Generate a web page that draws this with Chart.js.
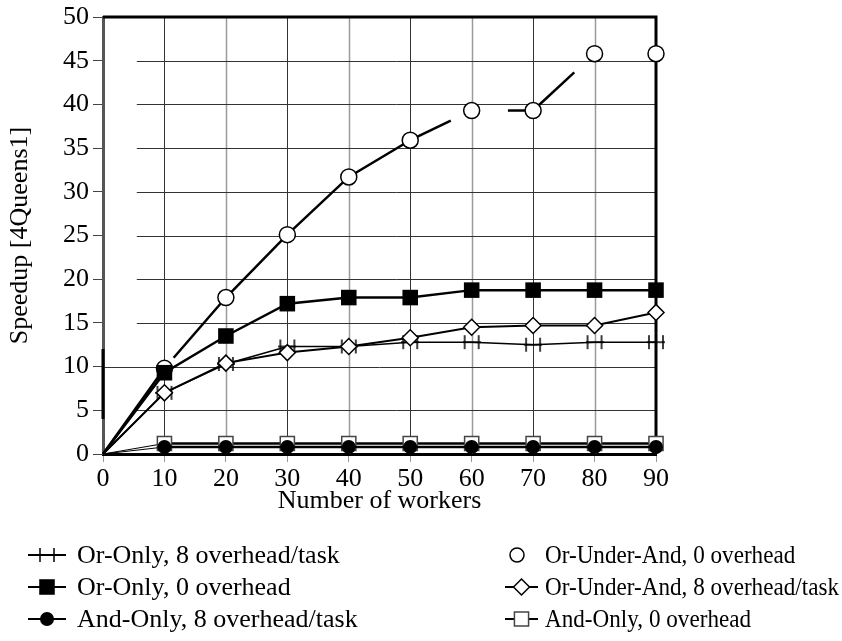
<!DOCTYPE html>
<html>
<head>
<meta charset="utf-8">
<script src="https://cdn.jsdelivr.net/npm/chart.js@4.4.1/dist/chart.umd.min.js"></script>
<style>
  html, body { margin: 0; padding: 0; background: #fff; }
  #wrap { width: 842px; height: 641px; position: relative; }
</style>
</head>
<body>
<div id="wrap"><canvas id="c" width="842" height="641"></canvas></div>
<script>
// Speedup measurements for the 4Queens1 benchmark
const workers = [0, 10, 20, 30, 40, 50, 60, 70, 80, 90];
const orOnly8 = [0, 7.0, 10.3, 12.3, 12.3, 12.8, 12.8, 12.5, 12.8, 12.8];
const orOnly0 = [0, 9.3, 13.5, 17.2, 17.9, 17.9, 18.75, 18.75, 18.75, 18.75];
const andOnly8 = [0, 0.8, 0.8, 0.8, 0.8, 0.8, 0.8, 0.8, 0.8, 0.8];
const orUnderAnd0 = [0, 9.8, 17.9, 25.1, 31.7, 35.9, 39.3, 39.3, 45.8, 45.8];
const orUnderAnd8 = [0, 7.0, 10.4, 11.6, 12.3, 13.3, 14.5, 14.7, 14.7, 16.2];
const andOnly0 = [0, 1.2, 1.2, 1.2, 1.2, 1.2, 1.2, 1.2, 1.2, 1.2];
const xTicks = [0, 10, 20, 30, 40, 50, 60, 70, 80, 90];
const yTicks = [0, 5, 10, 15, 20, 25, 30, 35, 40, 45, 50];

const FONT = "'Liberation Serif', 'Times New Roman', serif";

// "++" marker: two short vertical bars on either side of the point
function makeBarsMarker() {
  const cv = document.createElement('canvas');
  cv.width = 18; cv.height = 16;
  const g = cv.getContext('2d');
  g.strokeStyle = '#000';
  g.lineWidth = 1.5;
  g.beginPath();
  g.moveTo(2, 1); g.lineTo(2, 15);
  g.moveTo(16, 1); g.lineTo(16, 15);
  g.moveTo(0, 8); g.lineTo(18, 8);
  g.stroke();
  return cv;
}
const barsMarker = makeBarsMarker();

const pts = (ys) => workers.map((x, i) => ({x: x, y: ys[i]}));
// no marker at the origin
const markerRadius = (r) => (ctx) => ctx.dataIndex === 0 ? 0 : r;

function segLen(ctx) {
  const dx = ctx.p1.x - ctx.p0.x, dy = ctx.p1.y - ctx.p0.y;
  return Math.sqrt(dx * dx + dy * dy);
}

// broken pieces of the Or-Under-And, 0 overhead curve
function brokenDash(ctx) {
  const L = segLen(ctx);
  switch (ctx.p0DataIndex) {
    case 1: return [0, 0.15 * L, L, L];
    case 5: return [0.66 * L, L];
    case 6: return [0, 0.59 * L, L, L];
    case 7: return [0.67 * L, L];
    default: return undefined;
  }
}

const datasets = [
  {
    label: 'Or-Only, 0 overhead',
    data: pts(orOnly0),
    borderColor: '#000', backgroundColor: '#000', borderWidth: 2.5,
    pointStyle: 'rect', pointRadius: markerRadius(11), pointBorderWidth: 0,
    clip: false, order: 1
  },
  {
    label: 'Or-Under-And, 0 overhead',
    data: pts(orUnderAnd0),
    borderColor: '#000', backgroundColor: '#fff', borderWidth: 2.5,
    pointStyle: 'circle', pointRadius: markerRadius(8), pointBorderWidth: 1.5,
    segment: {
      borderDash: brokenDash,
      borderColor: (ctx) => ctx.p0DataIndex === 8 ? 'rgba(0,0,0,0)' : undefined
    },
    clip: false, order: 2
  },
  {
    label: 'Or-Under-And, 8 overhead/task',
    data: pts(orUnderAnd8),
    borderColor: '#000', backgroundColor: '#fff', borderWidth: 2,
    pointStyle: 'rectRot', pointRadius: markerRadius(8), pointBorderWidth: 1.5,
    clip: false, order: 3
  },
  {
    label: 'Or-Only, 8 overhead/task',
    data: pts(orOnly8),
    borderColor: '#000', backgroundColor: '#000', borderWidth: 1.5,
    pointStyle: barsMarker, pointRadius: markerRadius(8), pointBorderWidth: 0,
    clip: false, order: 4
  },
  {
    label: 'And-Only, 8 overhead/task',
    data: pts(andOnly8),
    borderColor: '#000', backgroundColor: '#000', borderWidth: 2.5,
    pointStyle: 'circle', pointRadius: markerRadius(7), pointBorderWidth: 0,
    segment: { borderWidth: (ctx) => ctx.p0DataIndex === 0 ? 1 : undefined },
    clip: false, order: 5
  },
  {
    label: 'And-Only, 0 overhead',
    data: pts(andOnly0),
    borderColor: '#000', backgroundColor: '#fff', borderWidth: 2.5,
    pointStyle: 'rect', pointRadius: markerRadius(10), pointBorderWidth: 1.5,
    pointBorderColor: '#444',
    segment: { borderWidth: (ctx) => ctx.p0DataIndex === 0 ? 1 : undefined },
    clip: false, order: 6
  }
];

// grid: alternating dark / grey verticals, thin dark horizontals, heavy top and right frame
const gridPlugin = {
  id: 'paperGrid',
  beforeDatasetsDraw(chart) {
    const {ctx, scales: {x, y}} = chart;
    ctx.save();
    xTicks.forEach((v) => {
      if (v === 0 || v === 90) return;
      const px = Math.round(x.getPixelForValue(v)) + 0.5;
      const odd = (v / 10) % 2 === 1;
      ctx.strokeStyle = odd ? '#333' : '#9a9a9a';
      ctx.lineWidth = odd ? 1 : 1.5;
      ctx.beginPath();
      ctx.moveTo(px, y.getPixelForValue(0));
      ctx.lineTo(px, y.getPixelForValue(50));
      ctx.stroke();
    });
    yTicks.forEach((v) => {
      if (v === 0 || v === 50) return;
      const py = Math.round(y.getPixelForValue(v)) + 0.5;
      ctx.strokeStyle = '#333';
      ctx.lineWidth = 1;
      ctx.beginPath();
      ctx.moveTo(x.getPixelForValue(v === 10 ? 0 : 5.5), py);
      ctx.lineTo(x.getPixelForValue(90), py);
      ctx.stroke();
    });
    ctx.strokeStyle = '#000';
    ctx.lineWidth = 3;
    ctx.beginPath();
    ctx.moveTo(x.getPixelForValue(0), y.getPixelForValue(50));
    ctx.lineTo(x.getPixelForValue(90), y.getPixelForValue(50));
    ctx.lineTo(x.getPixelForValue(90), y.getPixelForValue(0));
    // darker stretch of the left axis
    ctx.moveTo(x.getPixelForValue(0), y.getPixelForValue(4));
    ctx.lineTo(x.getPixelForValue(0), y.getPixelForValue(12));
    ctx.stroke();
    ctx.restore();
  }
};

// two-column legend under the axis title
const legendRows = [
  [{ds: 3, line: true}, {ds: 1, line: false}],
  [{ds: 0, line: true}, {ds: 2, line: true}],
  [{ds: 4, line: true}, {ds: 5, line: true}]
];
const legendPlugin = {
  id: 'paperLegend',
  afterDraw(chart) {
    const {ctx} = chart;
    const cols = [
      {x0: 28, x1: 66, tx: 77, squeeze: 1},
      {x0: 505, x1: 538, tx: 545, squeeze: 0.89}
    ];
    const rowY = [555, 587, 619];
    ctx.save();
    legendRows.forEach((row, r) => {
      row.forEach((entry, c) => {
        const ds = chart.data.datasets[entry.ds];
        const col = cols[c];
        const cy = rowY[r];
        const cx = (col.x0 + col.x1) / 2;
        if (entry.line) {
          ctx.strokeStyle = '#000';
          ctx.lineWidth = 2;
          ctx.beginPath();
          ctx.moveTo(col.x0, cy);
          ctx.lineTo(col.x1, cy);
          ctx.stroke();
        }
        const r0 = typeof ds.pointRadius === 'function' ? ds.pointRadius({dataIndex: 1}) : ds.pointRadius;
        ctx.fillStyle = ds.backgroundColor;
        ctx.strokeStyle = ds.pointBorderColor || '#000';
        ctx.lineWidth = ds.pointBorderWidth;
        const mx = entry.line ? cx : col.x0 + 12;
        Chart.helpers.drawPoint(ctx, {
          pointStyle: ds.pointStyle,
          radius: entry.line ? r0 : 7,
          rotation: 0,
          borderWidth: ds.pointBorderWidth
        }, mx, cy);
        ctx.save();
        ctx.translate(col.tx, cy + 1);
        ctx.scale(col.squeeze, 1);
        ctx.fillStyle = '#000';
        ctx.font = '26px ' + FONT;
        ctx.textAlign = 'left';
        ctx.textBaseline = 'middle';
        ctx.fillText(ds.label, 0, 0);
        ctx.restore();
      });
    });
    ctx.restore();
  }
};

new Chart(document.getElementById('c'), {
  type: 'line',
  data: { datasets: datasets },
  plugins: [gridPlugin, legendPlugin],
  options: {
    responsive: false,
    animation: false,
    events: [],
    layout: { padding: { top: 14, right: 186, left: 0, bottom: 0 } },
    plugins: { legend: { display: false }, tooltip: { enabled: false } },
    scales: {
      x: {
        type: 'linear',
        min: 0, max: 90,
        afterFit: (s) => { s.height = 187; },
        afterBuildTicks: (s) => { s.ticks = xTicks.map((v) => ({value: v})); },
        ticks: {
          color: '#000', padding: 4, maxRotation: 0,
          font: { family: FONT, size: 26, lineHeight: 1 }
        },
        grid: { drawOnChartArea: false, drawTicks: true, tickLength: 8, color: '#999', lineWidth: 1 },
        border: { display: true, color: '#000', width: 3 },
        title: {
          display: true, text: 'Number of workers', color: '#000',
          font: { family: FONT, size: 26, lineHeight: 1.2 },
          padding: { top: 0, bottom: 124 }
        }
      },
      y: {
        type: 'linear',
        min: 0, max: 50,
        afterFit: (s) => { s.width = 103; },
        afterBuildTicks: (s) => { s.ticks = yTicks.map((v) => ({value: v})); },
        ticks: {
          color: '#000', padding: 4,
          font: { family: FONT, size: 26, lineHeight: 1 }
        },
        grid: { drawOnChartArea: false, drawTicks: true, tickLength: 10, color: '#444', lineWidth: 1 },
        border: { display: true, color: '#555', width: 3 },
        title: {
          display: true, text: 'Speedup [4Queens1]', color: '#000',
          font: { family: FONT, size: 26, lineHeight: 1.2 },
          padding: { top: 5, bottom: 0 }
        }
      }
    }
  }
});
</script>
</body>
</html>
